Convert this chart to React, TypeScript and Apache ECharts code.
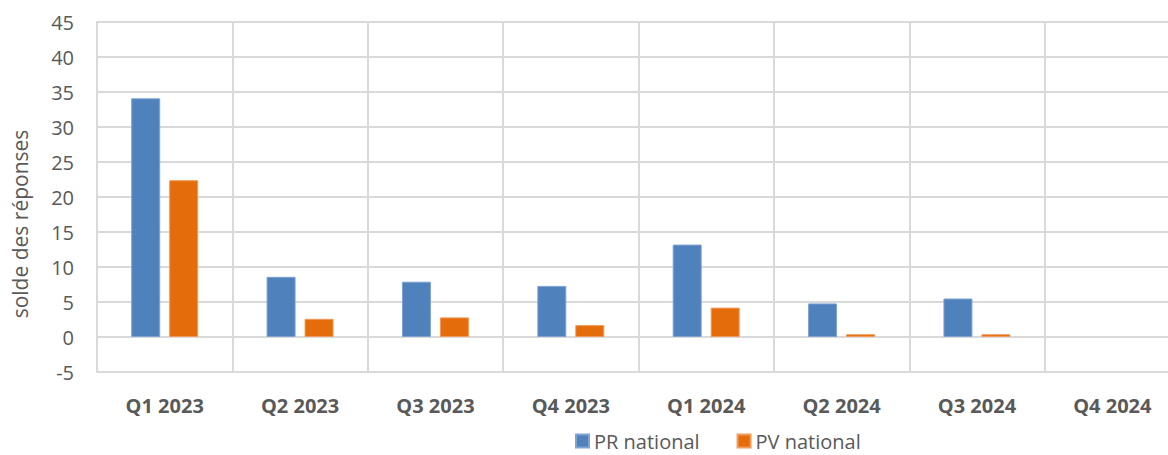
import React, { useEffect, useRef } from "react";
import * as echarts from "echarts";

const categories = ["Q1 2023", "Q2 2023", "Q3 2023", "Q4 2023", "Q1 2024", "Q2 2024", "Q3 2024", "Q4 2024"];
const prNational = [34.1, 8.6, 7.9, 7.3, 13.2, 4.8, 5.5, null];
const pvNational = [22.4, 2.6, 2.8, 1.7, 4.2, 0.4, 0.4, null];
const seriesNames = ["PR national", "PV national"];
const yTitle = "solde des réponses";

const FONT = "'Open Sans', 'Noto Sans', sans-serif";
const TXT = "#595959";
const GRIDC = "#d9d9d9";

export default function App() {
  const ref = useRef<HTMLDivElement>(null);
  useEffect(() => {
    if (!ref.current) return;
    const chart = echarts.init(ref.current, undefined, { renderer: "svg" });
    chart.setOption({
      animation: false,
      textStyle: { fontFamily: FONT },
      grid: { left: 97, top: 22, bottom: 83, right: 1, containLabel: false, show: false },
      legend: {
        left: 575,
        top: 431,
        padding: 0,
        icon: "rect",
        itemWidth: 13,
        itemHeight: 13,
        itemGap: 37,
        textStyle: { fontSize: 20, lineHeight: 20, color: TXT, fontFamily: FONT },
        data: seriesNames,
      },
      xAxis: {
        type: "category",
        data: categories,
        boundaryGap: true,
        axisLine: { show: true, lineStyle: { color: GRIDC, width: 2 } },
        axisTick: { show: false },
        splitLine: { show: true, lineStyle: { color: GRIDC, width: 2 } },
        axisLabel: { fontSize: 20, fontWeight: "bold", color: TXT, margin: 23, fontFamily: FONT, interval: 0 },
      },
      yAxis: {
        type: "value",
        min: -5,
        max: 45,
        interval: 5,
        axisLine: { show: true, lineStyle: { color: GRIDC, width: 2 } },
        axisTick: { show: false },
        splitLine: { show: true, lineStyle: { color: GRIDC, width: 2 } },
        axisLabel: { fontSize: 20, color: TXT, margin: 23, fontFamily: FONT },
      },
      graphic: [
        {
          type: "text",
          x: 20,
          y: 224,
          rotation: Math.PI / 2,
          style: {
            text: yTitle,
            fontSize: 21,
            fill: TXT,
            fontFamily: FONT,
            textAlign: "center",
            textVerticalAlign: "middle",
          },
        },
      ],
      series: [
        {
          name: seriesNames[0],
          type: "bar",
          data: prNational,
          barWidth: 29,
          barGap: "31%",
          itemStyle: { color: "#4f81bd", borderColor: "#7fa3d2", borderWidth: 1 },
        },
        {
          name: seriesNames[1],
          type: "bar",
          data: pvNational,
          barWidth: 29,
          barGap: "31%",
          itemStyle: { color: "#e46c0a", borderColor: "#f09a5c", borderWidth: 1 },
        },
      ],
    });
    return () => chart.dispose();
  }, []);
  return (
    <div style={{ position: "fixed", left: 0, top: 0, width: 1168, height: 455, overflow: "hidden", background: "#fff" }}>
      <div ref={ref} style={{ width: 1181, height: 455 }} />
    </div>
  );
}
